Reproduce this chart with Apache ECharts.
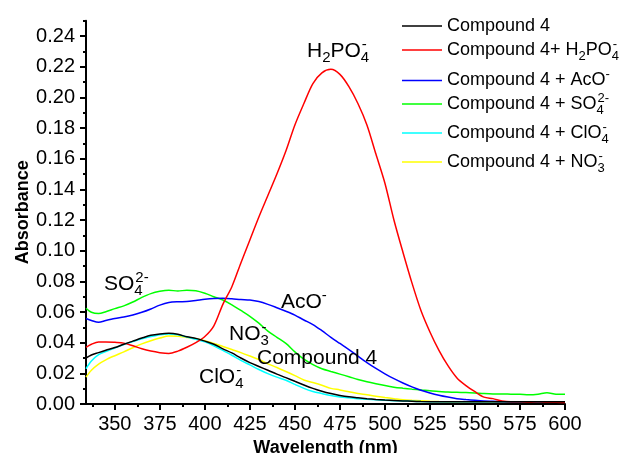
<!DOCTYPE html>
<html>
<head>
<meta charset="utf-8">
<script src="https://cdn.jsdelivr.net/npm/echarts@6/dist/echarts.min.js"></script>
<style>
html,body{margin:0;padding:0;background:#fff;}
#main{width:619px;height:453px;}
</style>
</head>
<body>
<div id="main"></div>
<script>
const wavelengths = [334,337,341,345,350,355,360,365,370,375,380,385,390,395,400,405,410,415,420,425,430,435,440,445,450,455,460,465,470,475,480,485,490,495,500,505,510,515,520,525,530,535,540,545,550,555,560,565,570,575,580,585,590,595,600];

const compound4 = [0.030,0.032,0.0335,0.035,0.0368,0.039,0.041,0.043,0.0448,0.0457,0.0461,0.0455,0.0438,0.0428,0.041,0.039,0.036,0.0333,0.030,0.027,0.0245,0.022,0.0195,0.0172,0.0148,0.0124,0.0102,0.0083,0.0068,0.0056,0.0047,0.0041,0.0035,0.003,0.0026,0.0023,0.002,0.0018,0.0016,0.0015,0.0015,0.0015,0.0015,0.0015,0.0015,0.0015,0.0015,0.0015,0.0015,0.0015,0.0015,0.0015,0.0015,0.0015,0.0015];

const withH2PO4 = [0.037,0.039,0.0405,0.0405,0.0402,0.0397,0.038,0.036,0.0345,0.0335,0.033,0.0345,0.037,0.040,0.044,0.051,0.065,0.0765,0.092,0.107,0.122,0.136,0.150,0.165,0.182,0.196,0.209,0.216,0.2183,0.215,0.207,0.196,0.182,0.163,0.144,0.120,0.099,0.079,0.061,0.047,0.035,0.025,0.017,0.012,0.008,0.0045,0.0035,0.002,0.0015,0.0015,0.0012,0.0015,0.0012,0.0012,0.001];

const withAcO = [0.0558,0.0545,0.0533,0.0545,0.0558,0.0567,0.058,0.0598,0.062,0.0645,0.0662,0.0667,0.0668,0.0675,0.0683,0.0688,0.0689,0.0686,0.0681,0.0678,0.0668,0.065,0.0628,0.0605,0.058,0.0548,0.0518,0.0478,0.0435,0.0395,0.0355,0.0312,0.027,0.0232,0.0197,0.0165,0.0137,0.0112,0.009,0.0072,0.0057,0.0045,0.0035,0.0029,0.0024,0.002,0.0018,0.0016,0.0015,0.0015,0.0015,0.0015,0.0015,0.0015,0.0015];

const withSO4 = [0.0625,0.0598,0.059,0.0602,0.0622,0.064,0.0665,0.0695,0.072,0.0735,0.0742,0.0737,0.0742,0.0738,0.0722,0.070,0.0678,0.0647,0.061,0.0572,0.0527,0.0475,0.0435,0.0395,0.034,0.0292,0.0257,0.023,0.0212,0.0195,0.0178,0.016,0.0145,0.0132,0.012,0.011,0.0103,0.0097,0.0092,0.0086,0.0082,0.0078,0.0076,0.0075,0.0072,0.0068,0.0066,0.0066,0.0064,0.0063,0.006,0.0064,0.0074,0.0064,0.0063];

const withClO4 = [0.023,0.028,0.0322,0.0342,0.0365,0.0388,0.0408,0.0425,0.044,0.0452,0.0457,0.0452,0.0437,0.0422,0.0405,0.038,0.035,0.0318,0.0285,0.0255,0.0225,0.0198,0.0175,0.0155,0.0128,0.0102,0.0082,0.0068,0.0055,0.0046,0.004,0.0035,0.0031,0.0028,0.0025,0.0022,0.002,0.0018,0.0016,0.0015,0.0015,0.0015,0.0015,0.0015,0.0015,0.0015,0.0015,0.0015,0.0015,0.0015,0.0015,0.0015,0.0015,0.0015,0.0015];

const withNO3 = [0.0175,0.022,0.026,0.0288,0.0315,0.034,0.0367,0.0392,0.0413,0.043,0.0443,0.0442,0.0434,0.0425,0.0413,0.0395,0.0375,0.0355,0.0335,0.0313,0.029,0.0262,0.0238,0.0212,0.0185,0.0157,0.014,0.0122,0.0102,0.0092,0.008,0.0068,0.006,0.005,0.0042,0.0035,0.0028,0.0024,0.0021,0.0018,0.0016,0.0015,0.0015,0.0015,0.0015,0.0015,0.0015,0.0015,0.0015,0.0015,0.0015,0.0015,0.0015,0.0015,0.0015];

const seriesNames = ['Compound 4','Compound 4+ H2PO4-','Compound 4 + AcO-','Compound 4 + SO42-','Compound 4 + ClO4-','Compound 4 + NO3-'];
const legendRich = [
  '{n|Compound 4}',
  '{n|Compound 4+ H}{b|2}{n|PO}{bz|4}{p|-}',
  '{n|Compound 4 + AcO}{p|-}',
  '{n|Compound 4 + SO}{bz|4}{p|2-}',
  '{n|Compound 4 + ClO}{bz|4}{p|-}',
  '{n|Compound 4 + NO}{bz|3}{p|-}'
];
const seriesColors = ['#000000','#ff0000','#0000ff','#00ff00','#00ffff','#ffff00'];
const seriesValues = [compound4, withH2PO4, withAcO, withSO4, withClO4, withNO3];

const yTickValues = [0,0.02,0.04,0.06,0.08,0.10,0.12,0.14,0.16,0.18,0.20,0.22,0.24];
const yMinorTickValues = [0.01,0.03,0.05,0.07,0.09,0.11,0.13,0.15,0.17,0.19,0.21,0.23,0.25];
const xTickValues = [350,375,400,425,450,475,500,525,550,575,600];
const xMinorTickValues = [337.5,362.5,387.5,412.5,437.5,462.5,487.5,512.5,537.5,562.5,587.5];

const annotations = [
  {text:'{n|H}{b|2}{n|PO}{bz|4}{p|-}', x:307, y:51},
  {text:'{n|SO}{bz|4}{p|2-}', x:104, y:284},
  {text:'{n|AcO}{p|-}', x:281, y:302},
  {text:'{n|NO}{bz|3}{p|-}', x:229, y:334},
  {text:'{n|Compound 4}', x:257, y:358},
  {text:'{n|ClO}{bz|4}{p|-}', x:199, y:377}
];

const FONT = '"Liberation Sans", Arial, sans-serif';
const legendRichStyle = {
  n:{fontSize:18, fontFamily:FONT, color:'#000', lineHeight:22},
  b:{fontSize:13, fontFamily:FONT, color:'#000', lineHeight:22, padding:[12,0,0,0]},
  bz:{fontSize:13, fontFamily:FONT, color:'#000', lineHeight:22, padding:[12,0,0,0], width:1},
  p:{fontSize:13, fontFamily:FONT, color:'#000', lineHeight:22, padding:[0,0,12,0]}
};
const annRichStyle = {
  n:{fontSize:21, fontFamily:FONT, color:'#000', lineHeight:26},
  b:{fontSize:15, fontFamily:FONT, color:'#000', lineHeight:26, padding:[13,0,0,0]},
  bz:{fontSize:15, fontFamily:FONT, color:'#000', lineHeight:26, padding:[13,0,0,0], width:1},
  p:{fontSize:15, fontFamily:FONT, color:'#000', lineHeight:26, padding:[0,0,13,0]}
};

const chart = echarts.init(document.getElementById('main'), null, {renderer:'canvas'});

const legendTops = [17, 37.5, 68, 91.5, 120.5, 149.5];
const legends = seriesNames.map((nm, i) => ({
  data:[nm],
  left:402,
  top:legendTops[i],
  padding:0,
  itemWidth:40,
  itemHeight:1.6,
  itemGap:0,
  icon:'rect',
  selectedMode:false,
  formatter: () => legendRich[i],
  textStyle:{rich:legendRichStyle, fontFamily:FONT, fontSize:18, color:'#000'}
}));

const axisLine = {show:true, onZero:false, lineStyle:{color:'#000', width:2}};

const option = {
  backgroundColor:'#fff',
  animation:false,
  grid:{left:86, top:20.7, width:479, height:383.3, containLabel:false, outerBoundsMode:'none'},
  legend: legends,
  xAxis:[
    {
      type:'value', min:334, max:600,
      axisLine: axisLine,
      splitLine:{show:false},
      axisTick:{show:true, length:6, inside:false, customValues:xTickValues, lineStyle:{color:'#000', width:2}},
      axisLabel:{show:true, customValues:xTickValues, margin:10, fontFamily:FONT, fontSize:20, color:'#000'},
      name:'Wavelength (nm)', nameLocation:'middle', nameGap:35, nameMoveOverlap:false,
      nameTextStyle:{fontFamily:FONT, fontSize:18, fontWeight:'bold', color:'#000'}
    },
    {
      type:'value', min:334, max:600, position:'bottom',
      axisLine:{show:false},
      splitLine:{show:false},
      axisTick:{show:true, length:3, inside:false, customValues:xMinorTickValues, lineStyle:{color:'#000', width:2}},
      axisLabel:{show:false}
    }
  ],
  yAxis:[
    {
      type:'value', min:0, max:0.25,
      axisLine: axisLine,
      splitLine:{show:false},
      axisTick:{show:true, length:6, inside:false, customValues:yTickValues, lineStyle:{color:'#000', width:2}},
      axisLabel:{show:true, customValues:yTickValues, margin:11, fontFamily:FONT, fontSize:20, color:'#000',
        formatter:(v)=>v.toFixed(2)},
      name:'Absorbance', nameLocation:'middle', nameGap:54, nameRotate:90, nameMoveOverlap:false,
      nameTextStyle:{fontFamily:FONT, fontSize:18, fontWeight:'bold', color:'#000'}
    },
    {
      type:'value', min:0, max:0.25, position:'left',
      axisLine:{show:false},
      splitLine:{show:false},
      axisTick:{show:true, length:3, inside:false, customValues:yMinorTickValues, lineStyle:{color:'#000', width:2}},
      axisLabel:{show:false}
    }
  ],
  series: seriesNames.map((nm, i) => ({
    name:nm,
    type:'line',
    xAxisIndex:0, yAxisIndex:0,
    data: wavelengths.map((w, j) => [w, seriesValues[i][j]]),
    symbol:'none',
    smooth:0.3,
    color:seriesColors[i],
    lineStyle:{color:seriesColors[i], width:1.5},
    z: 2 + (5 - i)
  })),
  graphic: annotations.map(a => ({
    type:'text', x:a.x, y:a.y, z:100,
    style:{text:a.text, rich:annRichStyle, align:'left', verticalAlign:'middle', fill:'#000'}
  }))
};
chart.setOption(option);
</script>
</body>
</html>
